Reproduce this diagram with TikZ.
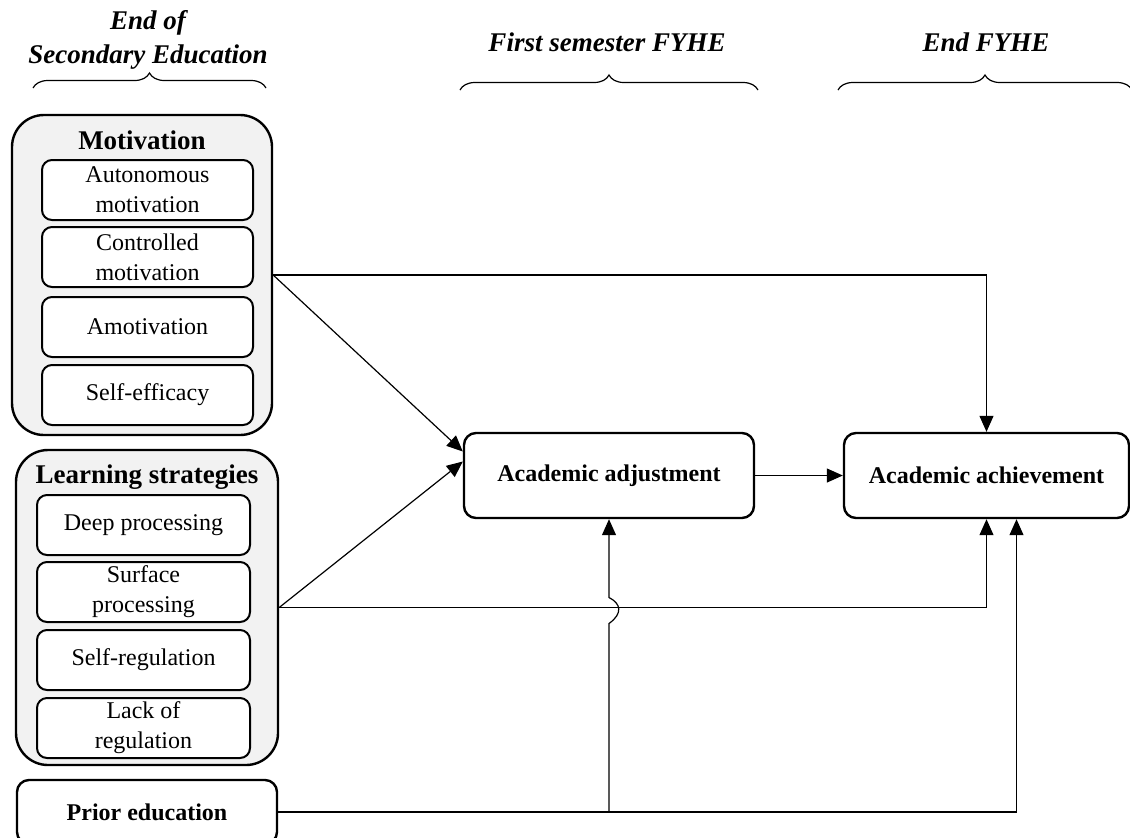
\documentclass[tikz,border=0pt]{standalone}
\usepackage{fontspec}
\setmainfont{Liberation Serif}
\usetikzlibrary{arrows.meta,decorations.pathreplacing,positioning}
\tikzset{
  GroupStyle/.style = { rectangle, rounded corners=16pt, draw, line width=1.2pt,
                        fill=gray!10 },
  TitleStyle/.style = { font = \fontsize{13.5}{16}\selectfont\bfseries },
  ItemStyle/.style  = { rectangle, rounded corners=5pt, draw, line width=1pt,
                        fill=white, align=center, inner sep=0pt,
                        font = \fontsize{12}{15}\selectfont },
  MainStyle/.style  = { rectangle, rounded corners=6pt, draw, line width=1.2pt,
                        fill=white, font = \fontsize{12}{15}\selectfont\bfseries },
  HeadStyle/.style  = { align=center,
                        font = \fontsize{13.5}{17}\selectfont\bfseries\itshape },
  BraceStyle/.style = { decorate, decoration={brace, amplitude=7.5pt},
                        line width=0.6pt },
  EdgeStyle/.style  = { line width=0.6pt, -{Triangle[length=8pt,width=7pt]} }
}

\begin{document}
\begin{tikzpicture}[x=0.5pt, y=-0.5pt]
  \useasboundingbox (0,0) rectangle (1130,837);

  % time points
  \node[HeadStyle] (h1) at (148,40) {End of\\Secondary Education};
  \node[HeadStyle] (h2) at (607,42) {First semester FYHE};
  \node[HeadStyle] (h3) at (986,42) {End FYHE};
  \draw[BraceStyle] (33,88) -- (266,88);
  \draw[BraceStyle] (460,90) -- (758,90);
  \draw[BraceStyle] (838,90) -- (1132,90);

  % motivation
  \node[GroupStyle, minimum width=130pt, minimum height=160pt] (mot) at (142,275) {};
  \node[TitleStyle] (motT) at (142,140) {Motivation};
  \node[ItemStyle, minimum width=105.5pt, minimum height=30pt] (m1) at (147.5,190) {Autonomous\\motivation};
  \node[ItemStyle, minimum width=105.5pt, minimum height=30pt] (m2) at (147.5,257) {Controlled\\motivation};
  \node[ItemStyle, minimum width=105.5pt, minimum height=30pt] (m3) at (147.5,327) {Amotivation};
  \node[ItemStyle, minimum width=105.5pt, minimum height=30pt] (m4) at (147.5,395) {Self-efficacy};

  % learning strategies
  \node[GroupStyle, minimum width=131pt, minimum height=157.5pt] (ls) at (147,607.5) {};
  \node[TitleStyle] (lsT) at (147,477) {Learning strategies};
  \node[ItemStyle, minimum width=106.5pt, minimum height=30pt] (l1) at (143.5,525) {Deep processing};
  \node[ItemStyle, minimum width=106.5pt, minimum height=30pt] (l2) at (143.5,592) {Surface\\processing};
  \node[ItemStyle, minimum width=106.5pt, minimum height=30pt] (l3) at (143.5,660) {Self-regulation};
  \node[ItemStyle, minimum width=106.5pt, minimum height=30pt] (l4) at (143.5,728) {Lack of\\regulation};

  % prior education and outcomes
  \node[MainStyle, minimum width=130pt, minimum height=32pt] (prior) at (147,812) {Prior education};
  \node[MainStyle, minimum width=145pt, minimum height=42.5pt] (adj) at (609,475.5) {Academic adjustment};
  \node[MainStyle, minimum width=142.5pt, minimum height=42.5pt] (ach) at (986.5,475.5) {Academic achievement};

  \draw[EdgeStyle] (mot.east) -- ([yshift=12pt]adj.west);
  \draw[EdgeStyle] (mot.east) -| (ach.north);
  \draw[EdgeStyle] (ls.east) -- ([yshift=7pt]adj.west);
  \draw[EdgeStyle] (ls.east) -| (ach.south);
  \draw[EdgeStyle] (adj) -- (ach);
  \draw[EdgeStyle] (prior.east) -| ([xshift=15pt]ach.south);

  % jump over the strategies line
  \coordinate (jn) at (prior.east -| adj.south);
  \coordinate (hop) at (jn |- ls.east);
  \draw[EdgeStyle] (jn) -- ([yshift=-8pt]hop)
    .. controls +(7pt,5pt) and +(6pt,-3pt) .. ([yshift=5pt]hop) -- (adj.south);
\end{tikzpicture}
\end{document}
